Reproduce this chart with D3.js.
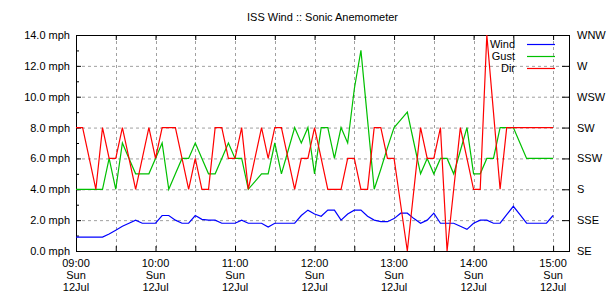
<!DOCTYPE html>
<html>
<head>
<meta charset="utf-8">
<script src="https://cdn.jsdelivr.net/npm/d3@7"></script>
<style>
  body { margin: 0; background: #fff; }
  svg text { font-family: "Liberation Sans", Arial, sans-serif; font-size: 11px; fill: #000; }
</style>
</head>
<body>
<div id="chart"></div>
<script>
// Data (5 minute samples, Sun 12 Jul)
const day = "2020-07-12";
const times = [
  "09:00","09:05","09:10","09:15","09:20","09:25","09:30","09:35","09:40","09:45","09:50","09:55",
  "10:00","10:05","10:10","10:15","10:20","10:25","10:30","10:35","10:40","10:45","10:50","10:55",
  "11:00","11:05","11:10","11:15","11:20","11:25","11:30","11:35","11:40","11:45","11:50","11:55",
  "12:00","12:05","12:10","12:15","12:20","12:25","12:30","12:35","12:40","12:45","12:50","12:55",
  "13:00","13:05","13:10","13:15","13:20","13:25","13:30","13:35","13:40","13:45","13:50","13:55",
  "14:00","14:05","14:10","14:15","14:20","14:25","14:30","14:35","14:40","14:45","14:50","14:55",
  "15:00"
];
const wind = [
  0.9, 0.9, 0.9, 0.9, 0.9, 1.1, 1.35, 1.6, 1.8, 2.0, 1.8, 1.8,
  1.8, 2.3, 2.3, 2.0, 1.8, 1.8, 2.3, 2.05, 2.0, 2.0, 1.8, 1.8,
  1.8, 2.0, 1.8, 1.8, 1.8, 1.55, 1.8, 1.8, 1.8, 1.8, 2.3, 2.65,
  2.4, 2.25, 2.65, 2.65, 2.0, 2.4, 2.65, 2.65, 2.25, 2.0, 1.9, 1.9,
  2.1, 2.45, 2.45, 2.1, 1.8, 2.0, 2.45, 1.8, 1.8, 1.8, 1.6, 1.4,
  1.8, 2.0, 2.0, 1.8, 1.8, 2.35, 2.9, 2.35, 1.8, 1.8, 1.8, 1.8,
  2.3
];
const gust = [
  4, 4, 4, 4, 4, 6, 4, 7, 6, 5, 5, 5,
  6, 7, 4, 5, 6, 6, 7, 6, 5, 5, 6, 7,
  6, 6, 4, 4.5, 5, 5, 7, 5, 6.5, 8, 7, 8,
  5, 8, 8, 6, 8, 7, 10.5, 13, 8.5, 4, 5.3, 6.7,
  8, 8.5, 9, 7, 5, 6, 5, 6, 6, 5, 6.5, 8,
  5, 5, 6, 6, 8, 8, 8, 7, 6, 6, 6, 6,
  6
];
// direction plotted on the mph scale: 2 mph per compass point, SE = 0
const dir = [
  8, 8, 6, 4, 8, 6, 6, 8, 6, 4, 6, 8,
  6, 8, 8, 8, 6, 4, 6, 4, 4, 8, 8, 6,
  6, 8, 4, 6, 8, 6, 8, 8, 6, 4, 6, 6,
  8, 6, 4, 4, 4, 6, 6, 4, 4, 8, 8, 6,
  6, 3, 0, 4, 8, 6, 6, 8, 0, 4, 8, 6,
  4, 4, 14, 9, 4, 8, 8, 8, 8, 8, 8, 8,
  8
];
const speedTicks = [0, 2, 4, 6, 8, 10, 12, 14];
const dirLabels = ["SE", "SSE", "S", "SSW", "SW", "WSW", "W", "WNW"];
const hourTicks = ["09:00", "10:00", "11:00", "12:00", "13:00", "14:00", "15:00"];
const halfHourTicks = ["09:30", "10:30", "11:30", "12:30", "13:30", "14:30"];
const xEnd = "15:12";
const seriesNames = ["Wind", "Gust", "Dir"];
const seriesColors = ["#0000ff", "#00c000", "#ff0000"];
const chartTitle = "ISS Wind :: Sonic Anemometer";

const width = 610, height = 300;
const margin = { top: 35, right: 41, bottom: 49, left: 76 };
const w = width - margin.left - margin.right;
const h = height - margin.top - margin.bottom;

const parse = t => d3.timeParse("%Y-%m-%d %H:%M")(day + " " + t);
const dates = times.map(parse);
const series = [wind, gust, dir].map((vals, i) => ({
  name: seriesNames[i],
  color: seriesColors[i],
  values: vals.map((v, j) => ({ t: dates[j], v: v }))
}));

const svg = d3.select("#chart").append("svg")
  .attr("width", width)
  .attr("height", height);

svg.append("text")
  .attr("x", margin.left + w / 2)
  .attr("y", 21)
  .attr("text-anchor", "middle")
  .text(chartTitle);

const g = svg.append("g")
  .attr("transform", `translate(${margin.left},${margin.top})`);

const x = d3.scaleTime()
  .domain([parse(hourTicks[0]), parse(xEnd)])
  .range([0, w]);
const y = d3.scaleLinear()
  .domain([0, 14])
  .range([h, 0]);

const allX = hourTicks.concat(halfHourTicks).map(parse);

// grid
g.append("g").selectAll("line")
  .data(speedTicks.filter(d => d > 0 && d < 14))
  .enter().append("line")
  .attr("x1", 0).attr("x2", w)
  .attr("y1", d => y(d) + 0.5).attr("y2", d => y(d) + 0.5)
  .attr("stroke", "#a0a0a0")
  .attr("stroke-dasharray", "3,3");
g.append("g").selectAll("line")
  .data(allX.filter(d => x(d) > 1))
  .enter().append("line")
  .attr("x1", d => Math.round(x(d)) + 0.5).attr("x2", d => Math.round(x(d)) + 0.5)
  .attr("y1", 0).attr("y2", h)
  .attr("stroke", "#a0a0a0")
  .attr("stroke-dasharray", "3,3");

// axes
const leftAxis = g.append("g")
  .call(d3.axisLeft(y).tickValues(speedTicks).tickSize(-5).tickPadding(6)
    .tickFormat(d => d.toFixed(1) + " mph"));
g.append("g")
  .call(d3.axisLeft(y).tickValues([1, 3, 5, 7, 9, 11, 13]).tickSize(-3).tickFormat(""));
const rightAxis = g.append("g")
  .attr("transform", `translate(${w},0)`)
  .call(d3.axisRight(y).tickValues(speedTicks).tickSize(-7).tickPadding(8)
    .tickFormat((d, i) => dirLabels[i]));
g.append("g")
  .attr("transform", `translate(0,${h})`)
  .call(d3.axisBottom(x).tickValues(allX).tickSize(-5).tickFormat(""));
g.append("g")
  .call(d3.axisTop(x).tickValues(allX).tickSize(-5).tickFormat(""));

g.selectAll(".domain").attr("stroke", "none");
g.selectAll(".tick line").attr("stroke", "#000");
g.selectAll(".tick text")
  .attr("font-family", null).attr("font-size", null).attr("fill", "#000");

// border
g.append("rect")
  .attr("x", 0.5).attr("y", 0.5)
  .attr("width", w).attr("height", h)
  .attr("fill", "none")
  .attr("stroke", "#000");

// bottom time labels, three lines each
const labels = g.append("g").selectAll("text")
  .data(hourTicks.map(parse))
  .enter().append("text")
  .attr("text-anchor", "middle")
  .attr("transform", d => `translate(${x(d)},${h + 16})`);
labels.append("tspan").attr("x", 0).attr("dy", 0).text(d3.timeFormat("%H:%M"));
labels.append("tspan").attr("x", 0).attr("dy", 12).text(d3.timeFormat("%a"));
labels.append("tspan").attr("x", 0).attr("dy", 12).text(d3.timeFormat("%d%b"));

// lines
const line = d3.line()
  .x(d => x(d.t))
  .y(d => y(d.v));

g.append("g").selectAll("path")
  .data(series)
  .enter().append("path")
  .attr("d", d => line(d.values))
  .attr("fill", "none")
  .attr("stroke", d => d.color)
  .attr("stroke-width", 1.2);

// legend
const legend = g.append("g").selectAll("g")
  .data(series)
  .enter().append("g")
  .attr("transform", (d, i) => `translate(0,${9 + i * 12})`);
legend.append("text")
  .attr("x", 439)
  .attr("dy", "0.35em")
  .attr("text-anchor", "end")
  .text(d => d.name);
legend.append("line")
  .attr("x1", 451).attr("x2", 479)
  .attr("y1", 0.5).attr("y2", 0.5)
  .attr("stroke", d => d.color)
  .attr("stroke-width", 1.2);
</script>
</body>
</html>
